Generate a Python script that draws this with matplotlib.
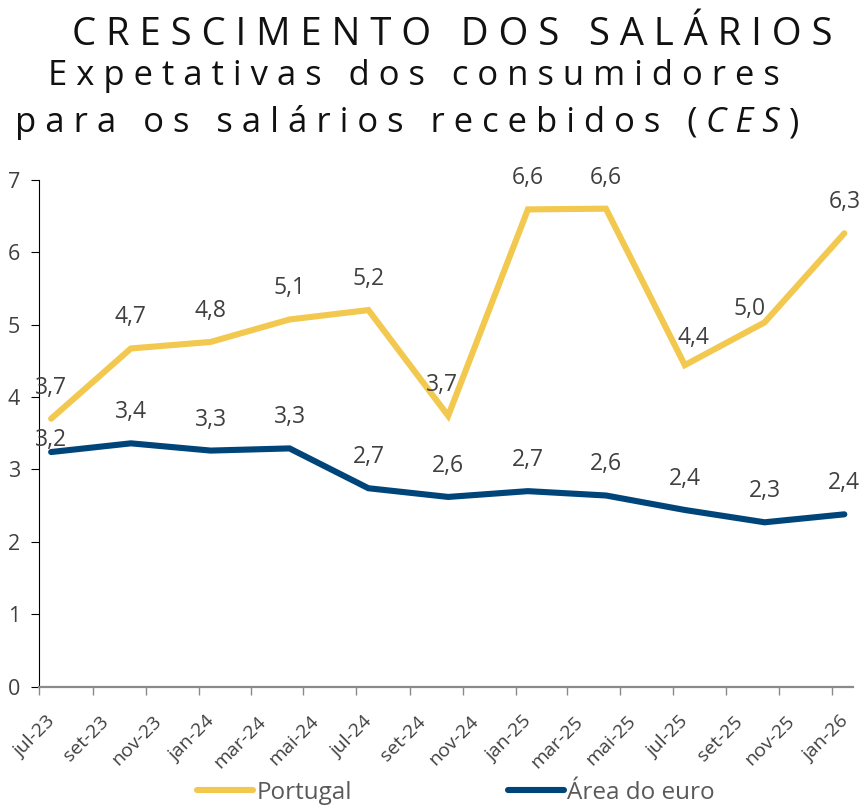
import matplotlib
matplotlib.use('Agg')
import matplotlib.pyplot as plt
import matplotlib.dates as mdates
from matplotlib.ticker import FuncFormatter
from matplotlib.transforms import ScaledTranslation
import datetime as dt

plt.rcParams['font.family'] = ['Open Sans', 'DejaVu Sans']

# ---------------- data ----------------
dates = ['2023-07-15', '2023-10-15', '2024-01-15', '2024-04-15', '2024-07-15',
         '2024-10-15', '2025-01-15', '2025-04-15', '2025-07-15', '2025-10-15',
         '2026-01-15']
portugal = [3.70, 4.67, 4.76, 5.07, 5.20, 3.74, 6.59, 6.60, 4.44, 5.03, 6.26]
euro = [3.24, 3.36, 3.26, 3.29, 2.74, 2.62, 2.70, 2.64, 2.44, 2.27, 2.38]
series_names = ['Portugal', 'Área do euro']
month_abbr = ['jan', 'fev', 'mar', 'abr', 'mai', 'jun',
              'jul', 'ago', 'set', 'out', 'nov', 'dez']
title = 'CRESCIMENTO DOS SALÁRIOS'
subtitle1 = 'Expetativas dos consumidores'
subtitle2 = 'para os salários recebidos ('
subtitle_abbr = 'CES'
subtitle_end = ')'

# ---------------- style ----------------
GOLD = '#F2C84F'
NAVY = '#00457A'
TXT = '#404040'
W, H = 861, 805

x = [dt.datetime.strptime(d, '%Y-%m-%d') for d in dates]

fig = plt.figure(figsize=(W / 100, H / 100), dpi=100)
fig.patch.set_facecolor('white')
ax = fig.add_axes([39 / W, 1 - 686.7 / H, (853 - 39) / W, (686.7 - 179.7) / H])

l1, = ax.plot(x, portugal, color=GOLD, lw=4.4, solid_capstyle='round',
              solid_joinstyle='miter', clip_on=False, zorder=3)
l2, = ax.plot(x, euro, color=NAVY, lw=4.4, solid_capstyle='round',
              solid_joinstyle='miter', clip_on=False, zorder=3)

# data labels (pixel offsets of the label's visual centre)
pt_off = {5: (-6, 33), 8: (9, 29), 9: (-15, 15)}
eu_off = {0: (0, 14)}
for vals, offs in ((portugal, pt_off), (euro, eu_off)):
    for i, (xi, v) in enumerate(zip(x, vals)):
        dx, dy = offs.get(i, (0, 33))
        ax.annotate(f'{v:.1f}'.replace('.', ','), (xi, v),
                    xytext=(dx, dy - 8), textcoords='offset pixels',
                    ha='center', va='baseline', fontsize=16.5, color=TXT,
                    annotation_clip=False, zorder=4)

ax.set_ylim(0, 7)
ax.set_yticks(range(0, 8))
ax.set_xlim(dt.datetime(2023, 7, 1), dt.datetime(2026, 1, 25))
ax.xaxis.set_major_locator(mdates.MonthLocator(bymonth=[1, 3, 5, 7, 9, 11]))


def fmt(v, pos):
    d = mdates.num2date(v)
    return f'{month_abbr[d.month - 1]}-{d.year % 100:02d}'


ax.xaxis.set_major_formatter(FuncFormatter(fmt))

for s in ('top', 'right'):
    ax.spines[s].set_visible(False)
ax.spines['left'].set_color('#000000')
ax.spines['left'].set_linewidth(0.8)
ax.spines['bottom'].set_color('#8a8a8a')
ax.spines['bottom'].set_linewidth(1.6)
ax.spines['bottom'].set_zorder(5)

ax.tick_params(axis='y', length=5.5, width=0.8, color='#000000',
               labelsize=15.5, labelcolor=TXT, pad=8)
ax.tick_params(axis='x', length=5.5, width=1.0, color='#8a8a8a',
               labelsize=14, labelcolor=TXT, pad=17.5)

fig.canvas.draw()
shift = ScaledTranslation(0.13, 0, fig.dpi_scale_trans)
for lab in ax.get_xticklabels():
    lab.set_rotation(45)
    lab.set_ha('right')
    lab.set_va('center')
    lab.set_rotation_mode('anchor')
    lab.set_transform(lab.get_transform() + shift)

# ---------------- legend ----------------
fig.legend(handles=[l1, l2], labels=series_names, ncol=2, loc='center left',
           bbox_to_anchor=(197 / W, 1 - 793 / H), frameon=False, fontsize=17.5,
           labelcolor='#595959', handlelength=2.3, handletextpad=0.15,
           columnspacing=6.4, borderpad=0, borderaxespad=0)

# ---------------- titles (letter-spaced) ----------------
renderer = fig.canvas.get_renderer()


def spaced(s, sep):
    return (sep + ' ' + sep).join(sep.join(w) for w in s.split(' '))


def width(t):
    return t.get_window_extent(renderer).width


SEP = ' '

t0 = fig.text(72 / W, 1 - 45 / H, spaced(title, SEP), ha='left',
              va='baseline', fontsize=22, color='#111111')
t0.set_fontsize(22 * 758 / width(t0))

t1 = fig.text(48 / W, 1 - 85 / H, spaced(subtitle1, SEP), ha='left',
              va='baseline', fontsize=21, color='#111111')
fs_sub = 21 * 734 / width(t1)
t1.set_fontsize(fs_sub)

# gap produced by one separator at the subtitle size
ta = fig.text(0, 0, 'xx', fontsize=fs_sub)
tb = fig.text(0, 0, 'x' + SEP + 'x', fontsize=fs_sub)
gap = (width(tb) - width(ta)) / W
ta.remove()
tb.remove()

y2 = 1 - 132 / H
p1 = fig.text(15 / W, y2, spaced(subtitle2, SEP), ha='left', va='baseline',
              fontsize=fs_sub, color='#111111')
x2 = p1.get_window_extent(renderer).x1 / W + gap
p2 = fig.text(x2, y2, spaced(subtitle_abbr, SEP), ha='left', va='baseline',
              fontsize=fs_sub, color='#111111', style='italic')
x3 = p2.get_window_extent(renderer).x1 / W + gap
p3 = fig.text(x3, y2, subtitle_end, ha='left', va='baseline',
              fontsize=fs_sub, color='#111111')

fig.savefig('out.png', dpi=100, facecolor='white')
